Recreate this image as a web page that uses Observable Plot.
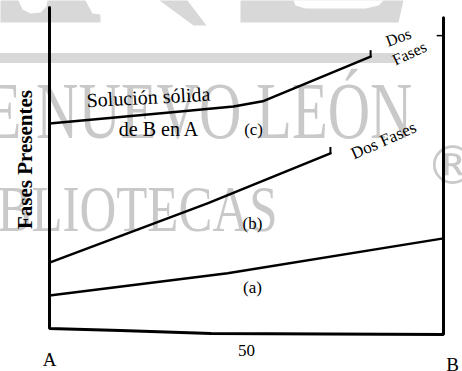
<!DOCTYPE html>
<html>
<head>
<meta charset="utf-8">
<script src="https://cdn.jsdelivr.net/npm/d3@7"></script>
<script src="https://cdn.jsdelivr.net/npm/@observablehq/plot@0.6"></script>
<style>
  html, body { margin: 0; padding: 0; background: #fff; }
  svg { display: block; }
</style>
</head>
<body>
<div id="chart"></div>
<script>
// Composition axis (A = 0 %, B = 100 %)
const tickValues = [0, 50, 100];
const tickLabels = ["A", "50", "B"];

// Frame: left axis, sloping base, right axis
const frameX = [0, 0, 18, 41, 100, 100];
const frameY = [100, 1.8, 1.2, 0.3, 0, 96.9];

// Curve (a)
const curveAX = [0, 45.2, 100];
const curveAY = [11.9, 18.7, 29.4];
// Curve (b)
const curveBX = [0, 40.1, 71.3];
const curveBY = [22.0, 40.1, 55.4];
// Curve (c)
const curveCX = [0, 33.2, 46.7, 54.1, 81.5];
const curveCY = [64.5, 68.2, 69.7, 71.3, 85.0];

const curveLabels = ["(a)", "(b)", "(c)"];
const curveLabelX = [51.5, 51.5, 51.8];
const curveLabelY = [14.4, 33.9, 62.7];

const yTitle = "Fases Presentes";
const regionText = ["Solución sólida", "de B en A"];
const twoPhase = ["Dos", "Fases", "Dos Fases"];
const watermark = ["E NUEVO LEÓN", "BLIOTECAS", "®"];

const zip = (xs, ys) => xs.map((x, i) => ({x, y: ys[i]}));
const frame = zip(frameX, frameY);
const cA = zip(curveAX, curveAY);
const cB = zip(curveBX, curveBY);
const cC = zip(curveCX, curveCY);
const labs = curveLabels.map((t, i) => ({t, x: curveLabelX[i], y: curveLabelY[i]}));
const ends = [cB[cB.length - 1], cC[cC.length - 1]];

// scan background: lower parts of a large stamp lettering (page pixels)
const stampShapes = [
  [[0,0],[18,0],[22,9],[30,13],[40,12],[46,6],[47,0],[85,0],[92,13],[100,14],[100,22],[0,22]],
  [[159,0],[187,0],[206,25],[193,25]],
  [[240,0],[403,0],[398,22],[240,22]]
];
const stampHoles = [
  [[293,0],[383,0],[378,5],[365,8],[305,8],[295,5]]
];
const px2x = X => (X - 49) / 3.94;
const px2y = Y => (334 - Y) / 3.27;
const toPoly = (shapes) => shapes.flatMap((s, k) => s.map(([X, Y]) => ({k, x: px2x(X), y: px2y(Y)})));

const serif = "Liberation Serif, Times New Roman, serif";
const gray = "#c9c9c9";
const light = "#d8d8d8";

const chart = Plot.plot({
  width: 462,
  height: 371,
  marginLeft: 49,
  marginRight: 19,
  marginTop: 7,
  marginBottom: 37,
  x: {domain: [0, 100], axis: null},
  y: {domain: [0, 100], axis: null},
  style: {fontFamily: serif, background: "#fff", color: "#000", overflow: "visible"},
  marks: [
    // watermark (scan background)
    Plot.line(toPoly(stampShapes), {x: "x", y: "y", z: "k", fill: light, stroke: null, curve: "linear-closed"}),
    Plot.line(toPoly(stampHoles), {x: "x", y: "y", z: "k", fill: "#fff", stroke: null, curve: "linear-closed"}),
    Plot.rect([0], {x1: px2x(0), x2: px2x(395), y1: px2y(63), y2: px2y(53), fill: light}),
    Plot.text([watermark[0]], {x: px2x(-15), y: px2y(137), text: d => d, fill: gray, fontSize: 80, textAnchor: "start", lineAnchor: "bottom", className: "wm1"}),
    Plot.text([watermark[1]], {x: px2x(-3), y: px2y(230), text: d => d, fill: gray, fontSize: 66, textAnchor: "start", lineAnchor: "bottom", className: "wm2"}),
    Plot.text([watermark[2]], {x: px2x(452), y: px2y(166), text: d => d, fill: gray, fontSize: 54, textAnchor: "middle", lineAnchor: "middle", fontFamily: "DejaVu Sans"}),

    // frame and curves
    Plot.line(frame, {x: "x", y: "y", stroke: "#000", strokeWidth: 3, strokeLinejoin: "miter"}),
    Plot.line(cA, {x: "x", y: "y", stroke: "#000", strokeWidth: 2.5}),
    Plot.line(cB, {x: "x", y: "y", stroke: "#000", strokeWidth: 2.5}),
    Plot.line(cC, {x: "x", y: "y", stroke: "#000", strokeWidth: 2.5}),
    Plot.ruleX(ends, {x: "x", y1: d => d.y - 0.4, y2: d => d.y + 1.8, stroke: "#000", strokeWidth: 2}),
    Plot.ruleY([91.4], {x1: 98.4, x2: 100, stroke: "#000", strokeWidth: 1.5}),

    // curve labels
    Plot.text(labs, {x: "x", y: "y", text: "t", fontSize: 17, fill: "#000"}),

    // region text
    Plot.text([regionText[0]], {x: px2x(148), y: px2y(97), text: d => d, fontSize: 20, rotate: -3, fill: "#000"}),
    Plot.text([regionText[1]], {x: px2x(158), y: px2y(129), text: d => d, fontSize: 20, fill: "#000"}),

    // two-phase labels
    Plot.text([twoPhase[0]], {x: px2x(398), y: px2y(37), text: d => d, fontSize: 16, rotate: -20, fill: "#000"}),
    Plot.text([twoPhase[1]], {x: px2x(409), y: px2y(53), text: d => d, fontSize: 16, rotate: -25, fill: "#000"}),
    Plot.text([twoPhase[2]], {x: px2x(383), y: px2y(140), text: d => d, fontSize: 17, rotate: -24, fill: "#000"}),

    // y title
    Plot.text([yTitle], {frameAnchor: "left", y: px2y(159), dx: -24, text: d => d, rotate: -90, textAnchor: "middle", fontSize: 21, fontWeight: "bold", fill: "#000"}),

    // composition tick labels
    Plot.text([0], {x: d => tickValues[d], y: 0, dy: 25, text: d => tickLabels[d], fontSize: 19, fill: "#000"}),
    Plot.text([1], {x: d => tickValues[d], y: 0, dy: 16, text: d => tickLabels[d], fontSize: 17, fill: "#000"}),
    Plot.text([2], {x: d => tickValues[d], y: 0, dy: 30, dx: 9, text: d => tickLabels[d], fontSize: 19, fill: "#000"})
  ]
});

// condensed watermark lettering
d3.select(chart).selectAll(".wm1 text").attr("textLength", 427).attr("lengthAdjust", "spacingAndGlyphs");
d3.select(chart).selectAll(".wm2 text").attr("textLength", 280).attr("lengthAdjust", "spacingAndGlyphs");

document.getElementById("chart").appendChild(chart);
</script>
</body>
</html>
